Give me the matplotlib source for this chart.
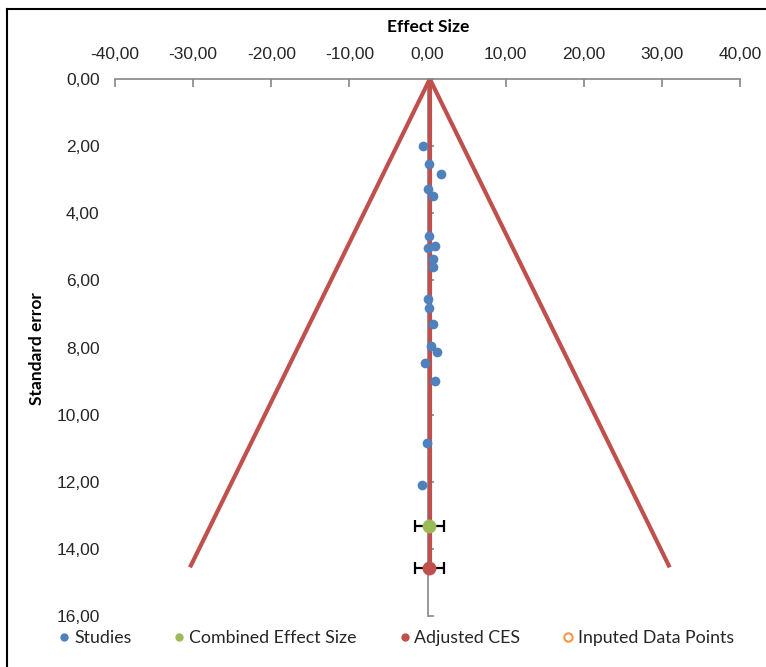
import matplotlib
matplotlib.use("Agg")
import matplotlib.pyplot as plt
from matplotlib.lines import Line2D

# ---- data ----
study_effect = [-0.58, 0.23, 1.73, 0.03, 0.67, 0.23, 1.00, 0.03, 0.67, 0.67,
                0.03, 0.23, 0.67, 0.41, 1.25, -0.32, 1.00, -0.10, -0.70]
study_se = [1.99, 2.54, 2.83, 3.27, 3.50, 4.67, 4.97, 5.04, 5.37, 5.59,
            6.56, 6.81, 7.29, 7.95, 8.12, 8.47, 8.99, 10.84, 12.11]
combined_effect = [0.23]
combined_se = [13.32]
combined_ci = [1.83]
adjusted_effect = [0.23]
adjusted_se = [14.58]
adjusted_ci = [1.83]
imputed_effect = []
imputed_se = []
funnel_x = [-30.4, 0.3, 31.0]
funnel_y = [14.55, 0.0, 14.55]
ces_line_x = [0.3, 0.3]
ces_line_y = [0.0, 14.55]
x_ticks = [-40, -30, -20, -10, 0, 10, 20, 30, 40]
x_tick_labels = ['-40,00', '-30,00', '-20,00', '-10,00', '0,00', '10,00', '20,00', '30,00', '40,00']
y_ticks = [0, 2, 4, 6, 8, 10, 12, 14, 16]
y_tick_labels = ['0,00', '2,00', '4,00', '6,00', '8,00', '10,00', '12,00', '14,00', '16,00']

W, H = 766, 667
fig = plt.figure(figsize=(W / 100, H / 100), dpi=100)
ax = fig.add_axes([115 / W, 1 - 616 / H, 625 / W, (616 - 79) / H])

red = '#C0504D'
blue = '#4F81BD'
green = '#9BBB59'
orange = '#F79646'
grey = '#868686'
txt = '#262626'

ax.plot(funnel_x, funnel_y, color=red, lw=3.0, solid_capstyle='butt', zorder=2)
ax.plot(ces_line_x, ces_line_y, color=red, lw=3.0, solid_capstyle='butt', zorder=2)

ax.plot(study_effect, study_se, 'o', color=blue, ms=7, mec='none', zorder=4, label='Studies')
ax.errorbar(combined_effect, combined_se, xerr=combined_ci, fmt='o', color=green, ms=10,
            mec='none', ecolor='black', elinewidth=1.6, capsize=4, capthick=1.6, zorder=5)
ax.errorbar(adjusted_effect, adjusted_se, xerr=adjusted_ci, fmt='o', color=red, ms=10,
            mec='none', ecolor='black', elinewidth=1.6, capsize=4, capthick=1.6, zorder=5)
ax.plot(imputed_effect, imputed_se, 'o', mfc='none', mec=orange, mew=1.5, ms=7)

ax.set_xlim(-40, 40)
ax.set_ylim(16, 0)

for s in ['right', 'bottom']:
    ax.spines[s].set_visible(False)
ax.spines['top'].set_color(grey)
ax.spines['top'].set_linewidth(1.2)
ax.spines['left'].set_position(('data', 0))
ax.spines['left'].set_color(grey)
ax.spines['left'].set_linewidth(1.2)
ax.spines['left'].set_zorder(1)

ax.xaxis.tick_top()
ax.set_xticks(x_ticks)
ax.set_xticklabels(x_tick_labels)
ax.tick_params(axis='x', direction='in', length=6, color=grey, width=1.2,
               pad=12.5, labelsize=12.5, labelcolor=txt)
ax.set_yticks(y_ticks)
ax.set_yticklabels(y_tick_labels)
ax.tick_params(axis='y', direction='in', length=4, color=grey, width=1.2,
               pad=236, labelsize=12.5, labelcolor=txt)
for lab in ax.get_xticklabels() + ax.get_yticklabels():
    lab.set_fontfamily('Liberation Sans')
ax.patch.set_visible(False)

fig.text(428 / W, 1 - 27 / H, 'Effect Size', ha='center', va='center',
         fontweight='bold', fontsize=12.5, family='Lato', color='black')
fig.text(37 / W, 1 - 349 / H, 'Standard error', ha='center', va='center', rotation=90,
         fontweight='bold', fontsize=12.5, family='Lato', color='black')

handles = [
    Line2D([], [], marker='o', ls='none', color=blue, ms=6, mec='none'),
    Line2D([], [], marker='o', ls='none', color=green, ms=6, mec='none'),
    Line2D([], [], marker='o', ls='none', color=red, ms=6, mec='none'),
    Line2D([], [], marker='o', ls='none', mfc='none', mec=orange, mew=1.5, ms=6),
]
labels = ['Studies', 'Combined Effect Size', 'Adjusted CES', 'Inputed Data Points']
leg = fig.legend(handles, labels, loc='center', bbox_to_anchor=(397 / W, 1 - 638 / H),
                 ncol=4, frameon=False, handlelength=0.5, handletextpad=0.3,
                 columnspacing=2.45, prop={'family': 'Lato', 'size': 12.8})
for t in leg.get_texts():
    t.set_color(txt)

fig.add_artist(Line2D([7 / W, 7 / W], [0, 1 - 9 / H], color='black', lw=1.5))
fig.add_artist(Line2D([7 / W, 1], [1 - 9 / H, 1 - 9 / H], color='black', lw=1.5))

fig.savefig('out.png', dpi=100, facecolor='white')
